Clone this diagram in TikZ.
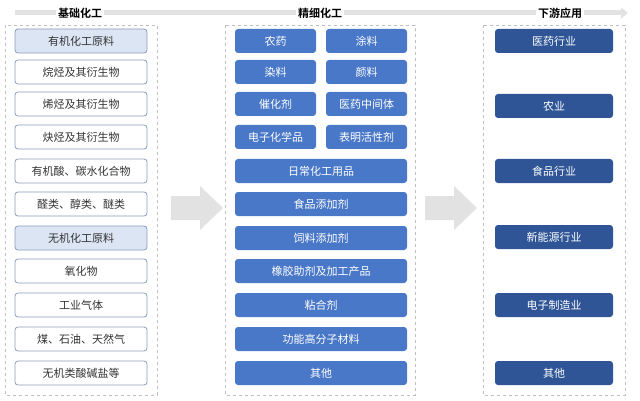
\documentclass[tikz,border=0pt]{standalone}
\usepackage{fontspec}
\setmainfont{Noto Sans CJK SC}
\newfontfamily\cjkb{Noto Sans CJK SC Bold}
\usetikzlibrary{arrows.meta}
\definecolor{lb}{HTML}{DCE5F4}
\definecolor{lbd}{HTML}{8A9DBB}
\definecolor{mb}{HTML}{4A78C8}
\definecolor{db}{HTML}{2F5597}
\definecolor{ga}{HTML}{E2E2E2}
\begin{document}
\begin{tikzpicture}[x=1pt,y=-1pt,
  lbox/.style={draw=lbd,line width=0.8pt,rounded corners=3pt,minimum width=132pt,minimum height=24pt,inner sep=0pt,font=\fontsize{11}{11}\selectfont,text=black!80},
  hbox/.style={lbox,fill=lb},
  mbox/.style={fill=mb,rounded corners=3pt,minimum height=24pt,inner sep=0pt,font=\fontsize{11}{11}\selectfont,text=white},
  rbox/.style={fill=db,rounded corners=3pt,minimum width=118pt,minimum height=24pt,inner sep=0pt,font=\fontsize{11}{11}\selectfont,text=white},
  frame/.style={draw=black!25,dashed,line width=0.6pt},
  ttl/.style={fill=white,inner sep=2pt,font=\cjkb\fontsize{11}{11}\selectfont}]
\useasboundingbox (0,0) rectangle (640,401);
\draw[ga,line width=5pt,-{Triangle[length=7pt,width=11pt]}] (15,13) -- (628,13);
\node[ttl] (t1) at (80,13) {基础化工};
\node[ttl] (t2) at (320,13) {精细化工};
\node[ttl] (t3) at (560,13) {下游应用};
\draw[frame] (5,25) rectangle (157,395);
\draw[frame] (225,25) rectangle (415,395);
\draw[frame] (483,25) rectangle (625,395);
% left
\foreach \t/\y/\s [count=\i] in {有机化工原料/41/hbox,烷烃及其衍生物/72/lbox,烯烃及其衍生物/104/lbox,炔烃及其衍生物/137/lbox,{有机酸、碳水化合物}/171/lbox,{醛类、醇类、醚类}/204/lbox,无机化工原料/238/hbox,氧化物/271/lbox,工业气体/305/lbox,{煤、石油、天然气}/339/lbox,无机类酸碱盐等/373/lbox}
  \node[\s] (l\i) at (81,\y) {\t};
% middle
\foreach \a/\b/\y [count=\i] in {农药/涂料/41,染料/颜料/72,催化剂/医药中间体/104,电子化学品/表明活性剂/137}{
  \node[mbox,minimum width=81pt] (ma\i) at (275.5,\y) {\a};
  \node[mbox,minimum width=81pt] (mb\i) at (366.5,\y) {\b};}
\foreach \t/\y [count=\i] in {日常化工用品/171,食品添加剂/204,饲料添加剂/238,橡胶助剂及加工产品/271,粘合剂/305,功能高分子材料/339,其他/373}
  \node[mbox,minimum width=172pt] (mc\i) at (321,\y) {\t};
% right
\foreach \t/\y [count=\i] in {医药行业/41,农业/106,食品行业/171,新能源行业/237,电子制造业/305,其他/373}
  \node[rbox] (r\i) at (554,\y) {\t};
% block arrows
\fill[ga] (171,196) -- (200,196) -- (200,186) -- (223,208) -- (200,230) -- (200,220) -- (171,220) -- cycle;
\fill[ga] (425,196) -- (454,196) -- (454,186) -- (477,208) -- (454,230) -- (454,220) -- (425,220) -- cycle;
\end{tikzpicture}
\end{document}
